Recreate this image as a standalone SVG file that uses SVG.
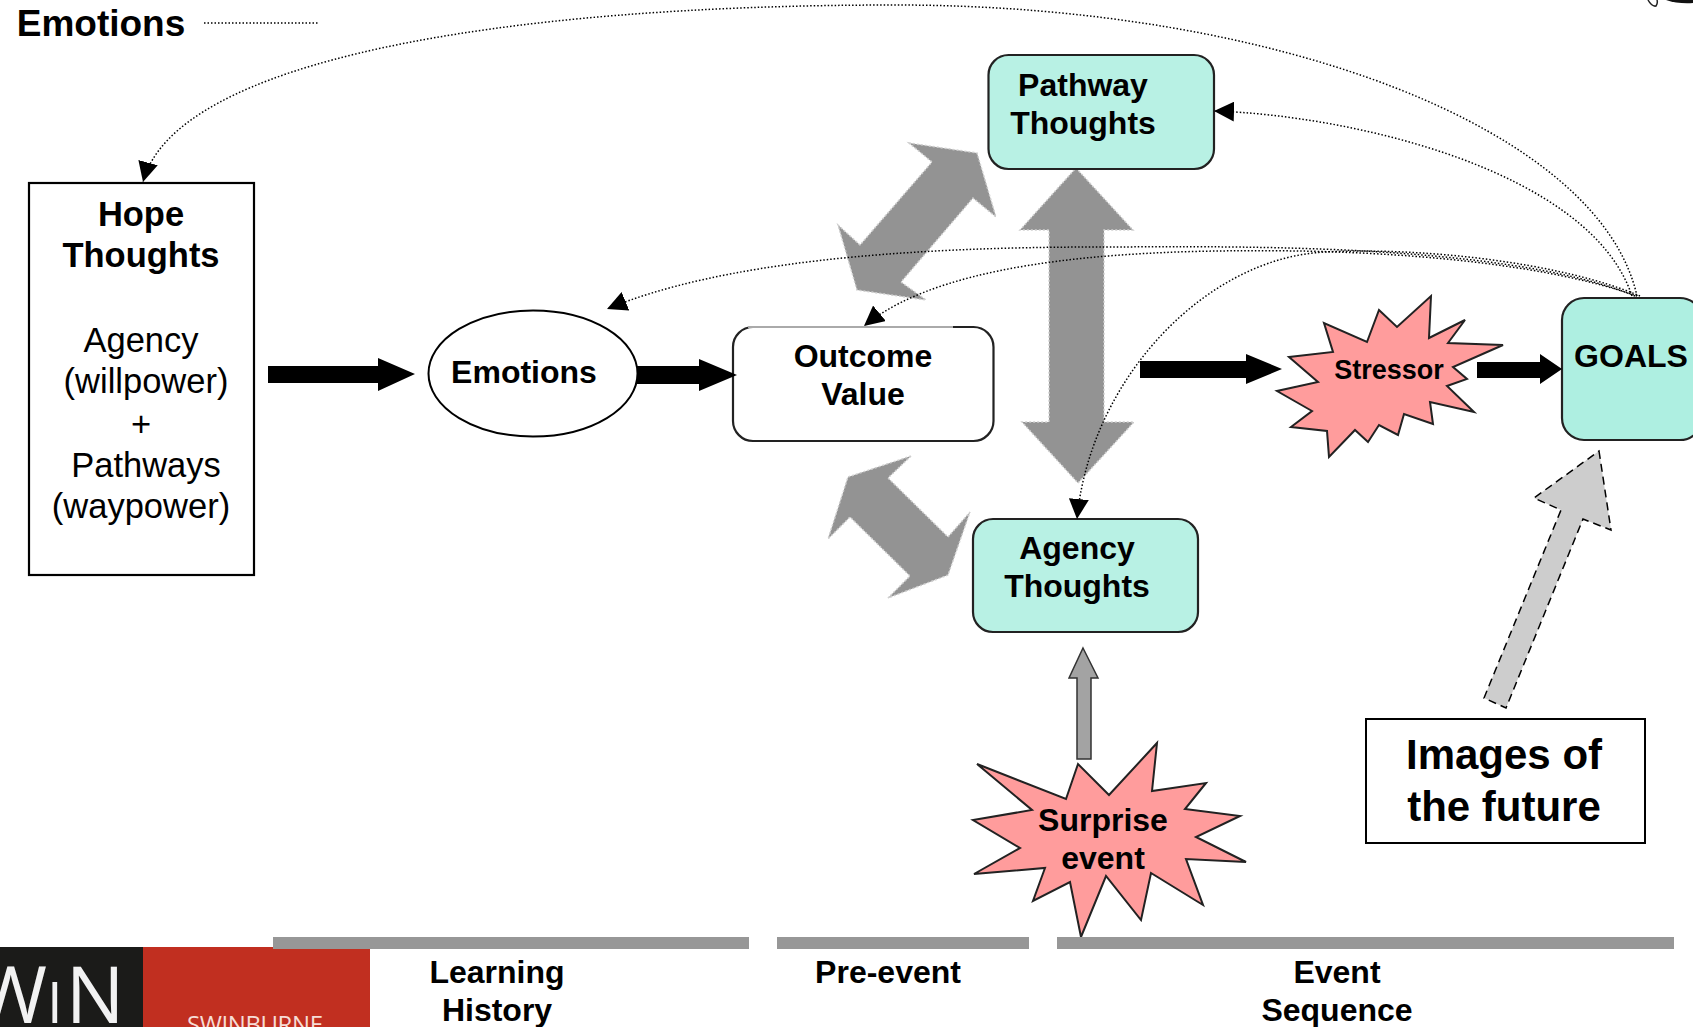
<svg xmlns="http://www.w3.org/2000/svg" width="1693" height="1027" viewBox="0 0 1693 1027">
<style>
text{font-family:"Liberation Sans",Arial,sans-serif;fill:#000;text-anchor:middle}
.b{font-weight:700}
.n{font-size:34.500px}
.m{font-size:32px;font-weight:700}
.box{stroke:#222;stroke-width:2.2}
.teal{fill:#b8f1e4}
.burst{fill:#ff9c9c;stroke:#222;stroke-width:2}
.dot{fill:none;stroke:#000;stroke-width:1.5;stroke-dasharray:1.5 2}
.blk{fill:#000}
.big{fill:#939393;stroke:#cfcfcf;stroke-width:1.5;stroke-dasharray:2 2}
.bar{fill:#979797}
</style>
<defs>
<marker id="h" viewBox="0 0 20 20" refX="20" refY="10" markerWidth="20" markerHeight="20" markerUnits="userSpaceOnUse" orient="auto"><path d="M0 0L20 10L0 20Z" fill="#000"/></marker>
</defs>
<rect width="1693" height="1027" fill="#fff"/>

<g id="legend">
<text x="101" y="36" class="b" style="font-size:37px">Emotions</text>
<path d="M204 23H318" class="dot"/>
</g>

<g id="big-arrows">
<path class="big" d="M909 143L977 153L996 217L973 198L901 282L926 300L857 290L838 225L860 245L932 162Z"/>
<path class="big" d="M1076 168L1133 230H1104V422H1134L1078 483L1022 422H1049V230H1020Z"/>
<path class="big" d="M911 456L888 478L948 537L970 512L948 575L888 598L910 576L850 517L828 539L848 477Z"/>
</g>

<g id="hope"><rect x="29" y="183" width="225" height="392" fill="#fff" stroke="#000" stroke-width="2.2"/>
<text x="141" y="226" class="n b">Hope</text><text x="141" y="267" class="n b">Thoughts</text>
<text x="141" y="352" class="n">Agency</text><text x="146" y="393" class="n">(willpower)</text><text x="141" y="436" class="n">+</text><text x="146" y="477" class="n">Pathways</text><text x="141" y="518" class="n">(waypower)</text></g>

<g id="emotions"><ellipse cx="533" cy="373.500" rx="104.500" ry="63" fill="#fff" stroke="#000" stroke-width="2"/><text x="524" y="383" class="m">Emotions</text></g>

<g id="outcome"><rect x="733" y="327" width="260.500" height="114" rx="20" fill="#fff" class="box"/><path d="M748 327H953" stroke="#aaa" stroke-width="2.200"/><text x="863" y="367" class="m">Outcome</text><text x="863" y="405" class="m">Value</text></g>

<g id="pathway"><rect x="988.500" y="55" width="225.500" height="114" rx="20" class="box teal"/><text x="1083" y="96" class="m">Pathway</text><text x="1083" y="134" class="m">Thoughts</text></g>

<g id="agency"><rect x="973" y="519" width="225" height="113" rx="20" class="box teal"/><text x="1077" y="559" class="m">Agency</text><text x="1077" y="597" class="m">Thoughts</text></g>

<g id="goals"><rect x="1562" y="298" width="140" height="142" rx="22" fill="#aeefe1" class="box"/><text x="1631" y="367" class="m">GOALS</text></g>

<g id="stressor"><polygon class="burst" points="1431,296 1429,338 1465,320 1448,343 1503,345 1453,367 1467,379 1447,386 1474,412 1430,402 1433,424 1404,414 1398,435 1379,425 1368,442 1355,430 1329,457 1327,431 1291,427 1312,411 1277,391 1318,382 1289,357 1333,352 1324,323 1367,342 1379,310 1397,327"/><text x="1389" y="379" class="b" style="font-size:27px">Stressor</text></g>

<g id="surprise"><polygon class="burst" points="1157,743 1152,791 1206,783 1185,809 1240,816 1196,837 1246,862 1186,859 1203,905 1151,873 1141,920 1106,876 1081,937 1070,882 1033,901 1045,868 974,874 1020,848 973,820 1032,810 977,764 1066,799 1078,764 1109,795"/><text x="1103" y="831" class="b" style="font-size:32px">Surprise</text><text x="1103" y="869" class="b" style="font-size:32px">event</text></g>

<g id="images"><rect x="1366" y="719" width="279" height="124" fill="#fff" stroke="#000" stroke-width="2"/><text x="1504" y="769" class="b" style="font-size:42px">Images of</text><text x="1504" y="821" class="b" style="font-size:42px">the future</text></g>

<g id="connectors">
<path class="dot" marker-end="url(#h)" d="M1637 296C1600 130 1280 5 895 5C500 5 175 60 143 182"/>
<path class="dot" marker-end="url(#h)" d="M1632 296C1590 170 1350 115 1214 111"/>
<path class="dot" marker-end="url(#h)" d="M1635 296C1500 240 1200 247 1100 247C900 247 720 262 607 309"/>
<path class="dot" marker-end="url(#h)" d="M1637 296C1540 262 1400 253 1300 251C1150 249 950 255 864 326"/>
<path class="dot" marker-end="url(#h)" d="M1640 296C1560 262 1420 247 1325 252C1205 258 1090 380 1077 519"/>
<path class="blk" d="M268 366H378V358L415 374L378 391V383H268Z"/>
<path class="blk" d="M637 366H699V359L737 375L699 391V384H637Z"/>
<path class="blk" d="M1140 361H1246V354L1282 369L1246 384V378H1140Z"/>
<path class="blk" d="M1477 362H1540V354L1562 369L1540 384V378H1477Z"/>
<path d="M1083 648L1098 678H1091V759H1077V678H1069Z" fill="#a3a3a3" stroke="#333" stroke-width="1.500"/>
<path d="M1599 451L1611 530L1583 519L1506 708L1484 698L1561 510L1534 498Z" fill="#cdcdcd" stroke="#000" stroke-width="1.500" stroke-dasharray="8 5"/>
</g>

<g id="logo">
<rect x="0" y="947" width="143" height="80" fill="#1b1b19"/>
<rect x="143" y="947" width="227" height="80" fill="#c12f20"/>
<text x="-25" y="1023" style="font-family:'Open Sans',sans-serif;font-size:78px;fill:#f2f2f2;text-anchor:start">W<tspan font-size="56">I</tspan><tspan dx="3">N</tspan></text>
<text x="187" y="1033" textLength="136" style="font-family:'Open Sans',sans-serif;font-size:24px;fill:#f6dcd6;text-anchor:start">SWINBURNE</text>
</g>

<g id="timeline">
<rect class="bar" x="273" y="937" width="476" height="12"/>
<rect class="bar" x="777" y="937" width="252" height="12"/>
<rect class="bar" x="1057" y="937" width="617" height="12"/>
<text x="497" y="983" class="m">Learning</text><text x="497" y="1021" class="m">History</text>
<text x="888" y="983" class="m">Pre-event</text>
<text x="1337" y="983" class="m">Event</text><text x="1337" y="1021" class="m">Sequence</text>
</g>

<g id="corner-mark">
<path d="M1648 0Q1652 7 1656 6Q1658 3 1657 0" fill="none" stroke="#222" stroke-width="1.500"/>
<path d="M1666 0Q1678 4 1693 3V0Z" fill="#111"/>
</g>
</svg>
